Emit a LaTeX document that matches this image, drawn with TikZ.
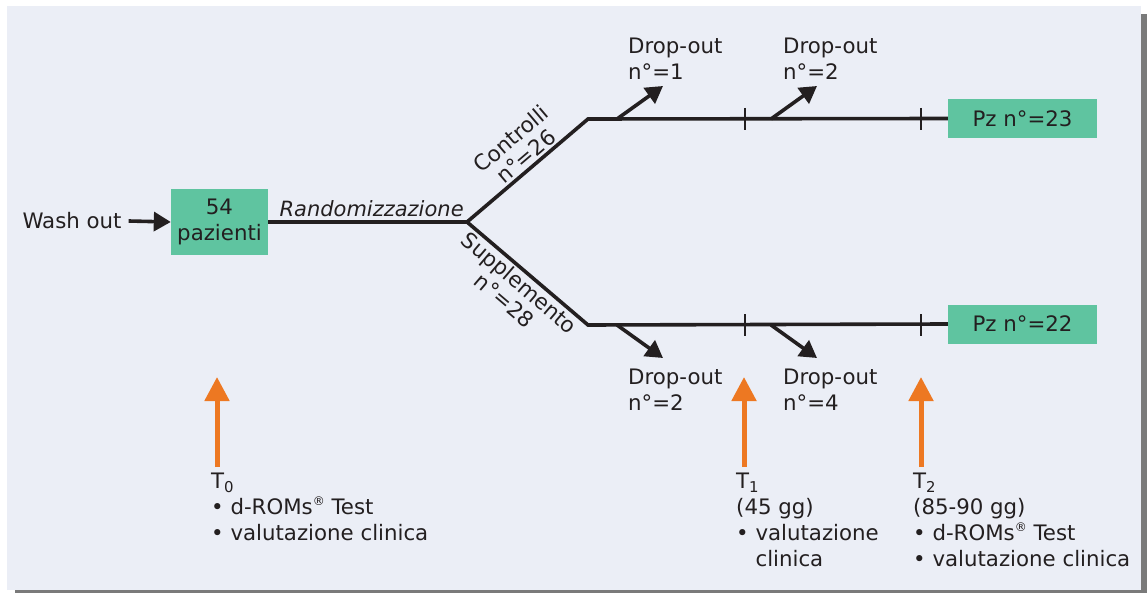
\documentclass[tikz,border=0pt]{standalone}
\usepackage{fontspec}
\setmainfont{DejaVu Sans}
\usetikzlibrary{arrows.meta}
\definecolor{bgpanel}{RGB}{235,238,246}
\definecolor{shadowgray}{RGB}{122,122,122}
\definecolor{boxgreen}{RGB}{95,196,160}
\definecolor{timeorange}{RGB}{237,120,34}
\definecolor{inkdark}{RGB}{35,31,32}
\newcommand{\regmark}{\raisebox{0.75ex}{\fontsize{12}{12}\selectfont ®}}
\begin{document}
\begin{tikzpicture}[x=1pt,y=-1pt,font=\fontsize{21.3}{26}\selectfont,text=inkdark]
      \tikzstyle{point} = [coordinate]
      \tikzstyle{box} = [rectangle, fill=boxgreen, inner sep=0pt, align=center]
      \tikzstyle{flow} = [draw=inkdark, line width=3.6pt]
      \tikzstyle{outarrow} = [flow, -{Triangle[length=17pt,width=19pt]}]
      \tikzstyle{tick} = [draw=inkdark, line width=2.4pt]
      \tikzstyle{timearrow} = [draw=timeorange, line width=5pt, -{Triangle[length=24pt,width=24pt]}]
      \tikzstyle{note} = [align=left, inner sep=0pt, anchor=west]
      \useasboundingbox (0,0) rectangle (1147,593);
      % panel and its shadow
      \fill[shadowgray] (15,14) rectangle (1147,593);
      \fill[bgpanel] (7,6) rectangle (1141,590);
      % boxes and branch points
      \node (wash) [inner sep=0pt] at (72,221) {Wash out};
      \node (pts) [box, minimum width=97pt, minimum height=66pt] at (219.5,222) {54\\pazienti};
      \node (split) [point] at (467,222) {};
      \node (up) [point] at (588,119) {};
      \node (down) [point] at (588,325) {};
      \node (pz1) [box, minimum width=149pt, minimum height=39pt] at (1022.5,118.5) {Pz n°=23};
      \node (pz2) [box, minimum width=149pt, minimum height=39pt] at (1022.5,324) {Pz n°=22};
      % main flow
      \draw [outarrow] ([xshift=7pt]wash.east)--(pts.west);
      \draw [flow] (pts.east)--node[pos=0.52, above, inner sep=3pt, font=\fontsize{21}{26}\selectfont\itshape]{Randomizzazione} (split);
      \draw [flow] (split)--node[pos=0.55, sloped, above, align=center, inner sep=2pt, font=\fontsize{21.5}{23}\selectfont]{Controlli\\n°=26} (up)--(pz1.west);
      \draw [flow] (split)--node[midway, sloped, below, align=center, inner sep=2pt, font=\fontsize{21.5}{23}\selectfont]{Supplemento\\n°=28} (down)--(pz2.west);
      \foreach \x in {745,921}
        \foreach \y in {119,325}
          \draw [tick] (\x,\y-11)--(\x,\y+11);
      % drop-outs
      \node (do1) [note] at (628,59) {Drop-out\\n°=1};
      \node (do2) [note] at (783,59) {Drop-out\\n°=2};
      \node (do3) [note] at (628,390) {Drop-out\\n°=2};
      \node (do4) [note] at (783,390) {Drop-out\\n°=4};
      \node (d1) [point] at (617,119) {};  \node (d1tip) [point] at (663,86) {};
      \node (d2) [point] at (771,119) {};  \node (d2tip) [point] at (817,86) {};
      \node (d3) [point] at (617,325) {};  \node (d3tip) [point] at (663,358) {};
      \node (d4) [point] at (771,325) {};  \node (d4tip) [point] at (817,358) {};
      \draw [outarrow] (d1)--(d1tip);
      \draw [outarrow] (d2)--(d2tip);
      \draw [outarrow] (d3)--(d3tip);
      \draw [outarrow] (d4)--(d4tip);
      % time points
      \node (t0) [note] at (211,507) {T\textsubscript{0}\\\textbullet\ d-ROMs\regmark\ Test\\\textbullet\ valutazione clinica};
      \node (t1) [note] at (736,520) {T\textsubscript{1}\\(45 gg)\\\textbullet\ valutazione\\\phantom{\textbullet\ }clinica};
      \node (t2) [note] at (913,520) {T\textsubscript{2}\\(85-90 gg)\\\textbullet\ d-ROMs\regmark\ Test\\\textbullet\ valutazione clinica};
      \node (a0) [point] at (217,467) {};  \node (a0tip) [point] at (217,377) {};
      \node (a1) [point] at (744,467) {};  \node (a1tip) [point] at (744,377) {};
      \node (a2) [point] at (921,467) {};  \node (a2tip) [point] at (921,377) {};
      \draw [timearrow] (a0)--(a0tip);
      \draw [timearrow] (a1)--(a1tip);
      \draw [timearrow] (a2)--(a2tip);
\end{tikzpicture}
\end{document}
